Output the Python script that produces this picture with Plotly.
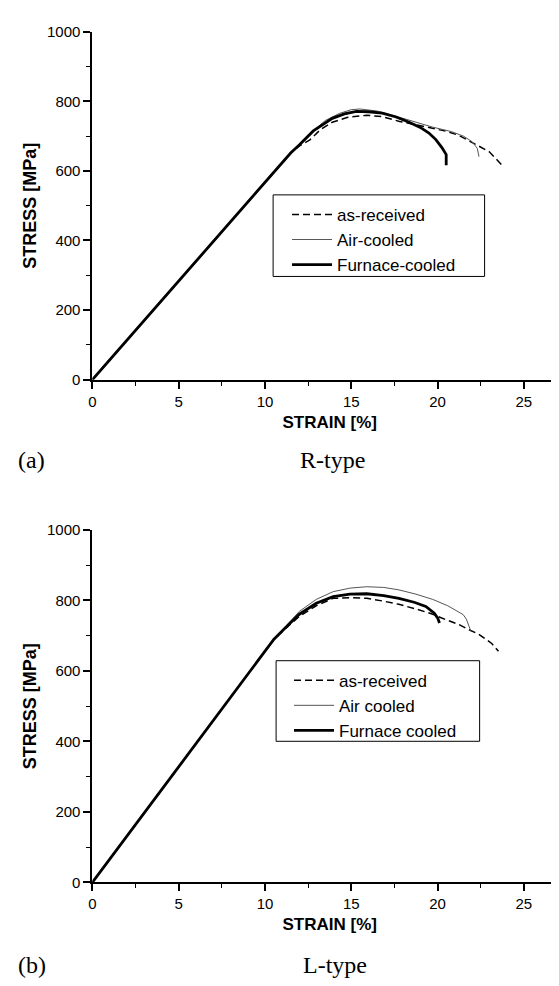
import plotly.graph_objects as go

# ---------------- data (R-type, panel a) ----------------
r_asrec_x = [0, 11.5, 12.0, 12.6, 13.2, 13.9, 14.8, 15.9, 16.8, 17.8, 18.8, 19.7, 20.5, 21.2, 22.2, 23.0, 23.8]
r_asrec_y = [0, 652, 672, 689, 718, 740, 754, 760, 756, 742, 732, 723, 714, 703, 677, 655, 613]

r_air_x = [0, 11.5, 12.0, 12.8, 13.5, 14.3, 15.0, 15.5, 16.5, 17.8, 18.8, 19.7, 20.8, 21.5, 22.0, 22.3, 22.4]
r_air_y = [0, 652, 678, 715, 745, 765, 776, 778, 772, 754, 740, 726, 713, 700, 684, 665, 641]

r_fur_x = [0, 11.5, 12.0, 12.8, 13.9, 14.6, 15.3, 16.0, 16.8, 17.6, 18.35, 19.0, 19.5, 19.9, 20.25, 20.5, 20.5]
r_fur_y = [0, 652, 675, 715, 751, 764, 771, 770, 766, 755, 740, 725, 709, 690, 667, 647, 616]

# ---------------- data (L-type, panel b) ----------------
l_asrec_x = [0, 10.52, 11.30, 11.99, 12.97, 13.95, 14.92, 15.90, 16.88, 17.76, 18.74, 19.72, 20.50, 21.18, 21.77, 22.36, 23.14, 23.53]
l_asrec_y = [0, 690, 725, 755, 785, 806, 808, 806, 798, 789, 776, 761, 745, 733, 718, 705, 678, 656]

l_air_x = [0, 10.52, 11.30, 11.99, 12.97, 13.95, 14.92, 15.90, 16.88, 17.76, 18.74, 19.72, 20.59, 21.18, 21.48, 21.67, 21.92]
l_air_y = [0, 690, 732, 769, 803, 825, 835, 839, 837, 830, 818, 803, 785, 769, 760, 747, 714]

l_fur_x = [0, 10.52, 11.30, 11.99, 12.97, 13.95, 14.92, 15.90, 16.88, 17.76, 18.64, 19.32, 19.81, 20.01, 20.11]
l_fur_y = [0, 690, 728, 761, 792, 811, 818, 819, 814, 806, 795, 783, 764, 750, 736]

names_a = ["as-received", "Air-cooled", "Furnace-cooled"]
names_b = ["as-received", "Air cooled", "Furnace cooled"]

x_ticks = [0, 5, 10, 15, 20, 25]
y_ticks = [0, 200, 400, 600, 800, 1000]

W, H = 559, 986
SANS = "Liberation Sans, Arial, sans-serif"
SERIF = "Liberation Serif, Times New Roman, serif"

styles = [
    dict(color="black", width=1.5, dash="7px,4px"),
    dict(color="#555555", width=1.0),
    dict(color="black", width=2.8),
]

fig = go.Figure()
sets_a = [(r_asrec_x, r_asrec_y), (r_air_x, r_air_y), (r_fur_x, r_fur_y)]
sets_b = [(l_asrec_x, l_asrec_y), (l_air_x, l_air_y), (l_fur_x, l_fur_y)]
for (xs, ys), nm, st in zip(sets_a, names_a, styles):
    fig.add_trace(go.Scatter(x=xs, y=ys, mode="lines", name=nm, line=st,
                             xaxis="x", yaxis="y", legend="legend"))
for (xs, ys), nm, st in zip(sets_b, names_b, styles):
    fig.add_trace(go.Scatter(x=xs, y=ys, mode="lines", name=nm, line=st,
                             xaxis="x2", yaxis="y2", legend="legend2"))


def px_y(p):
    return 1 - p / H


def xax(domain, rng, anchor):
    return dict(domain=domain, range=rng, anchor=anchor, tickvals=x_ticks,
                ticks="outside", ticklen=7, tickwidth=1.5, tickcolor="black",
                showline=True, linecolor="black", linewidth=2, showgrid=False,
                zeroline=False, tickfont=dict(family=SANS, size=15, color="black"),
                minor=dict(dtick=2.5, ticks="outside", ticklen=4, tickwidth=1.2, tickcolor="black"),
                title=dict(text="<b>STRAIN [%]</b>", font=dict(family=SANS, size=17, color="black"),
                           standoff=7))


def yax(domain, anchor):
    return dict(domain=domain, range=[0, 1000], anchor=anchor, tickvals=y_ticks,
                ticks="outside", ticklen=7, tickwidth=1.5, tickcolor="black",
                showline=True, linecolor="black", linewidth=2, showgrid=False,
                zeroline=False, tickfont=dict(family=SANS, size=15, color="black"),
                minor=dict(dtick=100, ticks="outside", ticklen=4, tickwidth=1.2, tickcolor="black"),
                title=dict(text="<b>STRESS [MPa]</b>", font=dict(family=SANS, size=18, color="black"),
                           standoff=6))


leg_common = dict(bgcolor="rgba(0,0,0,0)", borderwidth=0,
                  font=dict(family=SANS, size=17, color="black"),
                  xanchor="left", yanchor="top", tracegroupgap=0, itemwidth=40)

box_style = dict(type="rect", xref="paper", yref="paper", layer="above",
                 line=dict(color="black", width=1), fillcolor="white")

fig.update_layout(
    width=W, height=H,
    margin=dict(l=0, r=0, t=0, b=0),
    paper_bgcolor="white", plot_bgcolor="white",
    xaxis=xax([81 / W, 1.0], [0, 27.5], "y"),
    yaxis=yax([px_y(369), px_y(15)], "x"),
    xaxis2=xax([81 / W, 1.0], [0, 27.5], "y2"),
    yaxis2=yax([px_y(880.5), px_y(522)], "x2"),
    legend=dict(x=277 / W, y=px_y(183), **leg_common),
    legend2=dict(x=279 / W, y=px_y(657), **leg_common),
    showlegend=True,
    shapes=[
        dict(x0=263 / W, x1=476 / W, y0=px_y(264), y1=px_y(181), **box_style),
        dict(x0=266 / W, x1=471 / W, y0=px_y(737), y1=px_y(655), **box_style),
    ],
    annotations=[
        dict(text="(a)", x=4 / W, y=px_y(451), xref="paper", yref="paper", xanchor="left",
             yanchor="middle", showarrow=False, font=dict(family=SERIF, size=24, color="black")),
        dict(text="R-type", x=323 / W, y=px_y(451), xref="paper", yref="paper", xanchor="center",
             yanchor="middle", showarrow=False, font=dict(family=SERIF, size=24, color="black")),
        dict(text="(b)", x=4 / W, y=px_y(965), xref="paper", yref="paper", xanchor="left",
             yanchor="middle", showarrow=False, font=dict(family=SERIF, size=24, color="black")),
        dict(text="L-type", x=325 / W, y=px_y(965), xref="paper", yref="paper", xanchor="center",
             yanchor="middle", showarrow=False, font=dict(family=SERIF, size=24, color="black")),
    ],
)

fig.write_html("out.html")
